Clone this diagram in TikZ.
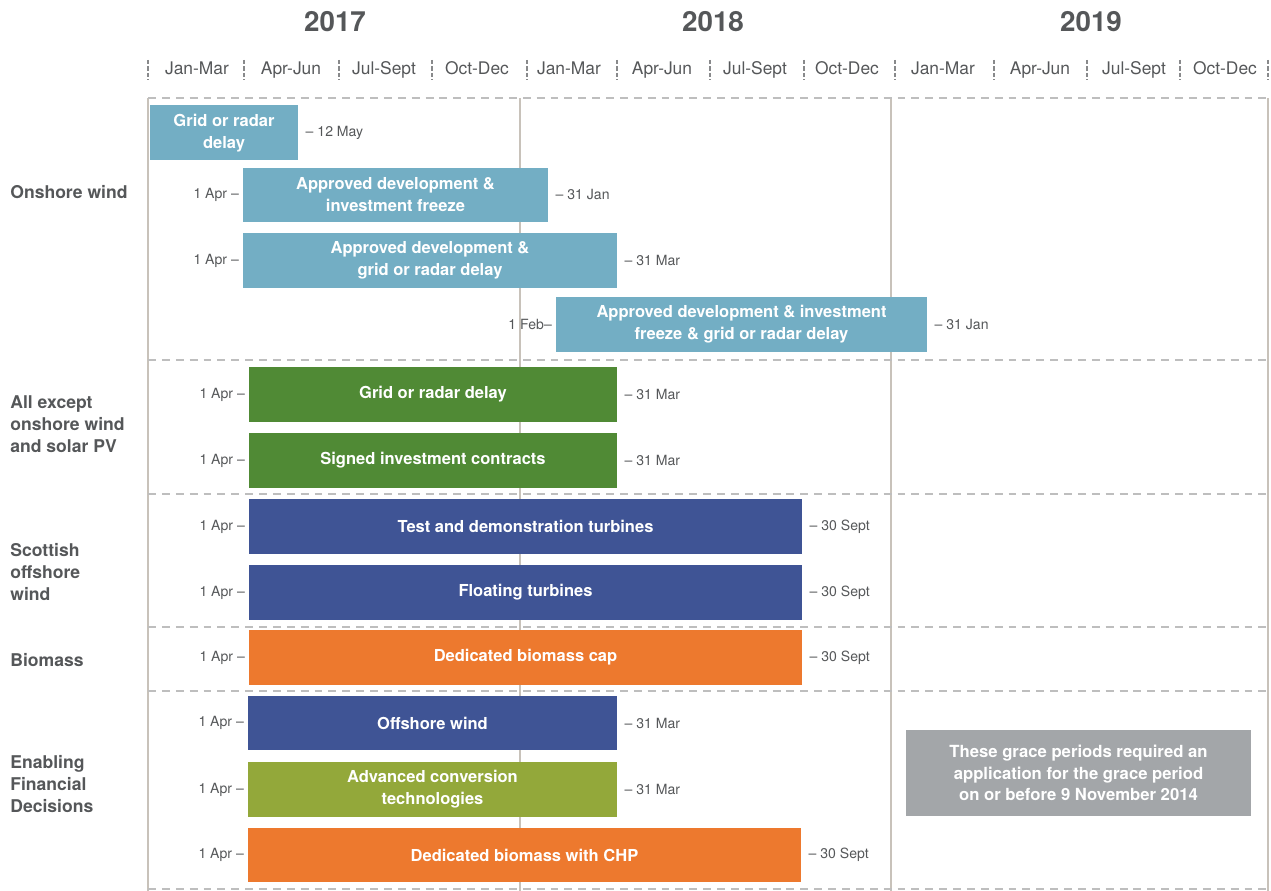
\documentclass[tikz,border=0pt]{standalone}
\usepackage{fontspec}
\setmainfont{TeX Gyre Heros}
\usepackage{tikz}
\usetikzlibrary{positioning}
\usepackage{xcolor}

\definecolor{textgrey}{RGB}{85,87,89}
\definecolor{gridline}{RGB}{200,194,186}
\definecolor{dashline}{RGB}{190,190,190}
\definecolor{windblue}{RGB}{115,174,196}
\definecolor{leafgreen}{RGB}{80,138,53}
\definecolor{navy}{RGB}{63,84,149}
\definecolor{burntorange}{RGB}{237,121,46}
\definecolor{olive}{RGB}{147,168,58}
\definecolor{notegrey}{RGB}{163,166,169}

\begin{document}
\begin{tikzpicture}[x=0.02cm, y=-0.02cm,
  bar/.style={rectangle, inner sep=0pt, minimum height=1.1cm, text=white, align=center,
              font=\bfseries\fontsize{9.4}{12.5}\selectfont},
  datel/.style={inner sep=1pt, text=textgrey, font=\fontsize{8}{9.5}\selectfont},
  catlabel/.style={anchor=west, align=left, inner sep=0pt, text=textgrey,
              font=\bfseries\fontsize{10}{12.6}\selectfont},
  yearlabel/.style={text=textgrey, font=\bfseries\fontsize{15.8}{18}\selectfont},
  quarter/.style={text=textgrey, text height=0.72em, text depth=0.21em,
              font=\fontsize{9.9}{12}\selectfont},
  sepline/.style={dashline, line width=0.8pt, dash pattern=on 4.5pt off 3.4pt},
  tick/.style={textgrey!70, line width=1pt, dash pattern=on 2.4pt off 1.3pt}]

\useasboundingbox (0,0) rectangle (1271,891);

% Years and quarters
\node[yearlabel] (y2017) at (335,22) {2017};
\node[yearlabel] (y2018) at (713,22) {2018};
\node[yearlabel] (y2019) at (1091,22) {2019};

\node[quarter] (q1)  at (197,70)  {Jan-Mar};
\node[quarter] (q2)  at (291,70)  {Apr-Jun};
\node[quarter] (q3)  at (384,70)  {Jul-Sept};
\node[quarter] (q4)  at (477,70)  {Oct-Dec};
\node[quarter] (q5)  at (569,70)  {Jan-Mar};
\node[quarter] (q6)  at (662,70)  {Apr-Jun};
\node[quarter] (q7)  at (755,70)  {Jul-Sept};
\node[quarter] (q8)  at (847,70)  {Oct-Dec};
\node[quarter] (q9)  at (943,70)  {Jan-Mar};
\node[quarter] (q10) at (1040,70) {Apr-Jun};
\node[quarter] (q11) at (1134,70) {Jul-Sept};
\node[quarter] (q12) at (1225,70) {Oct-Dec};

\draw[tick] (148,60) -- (148,80)  (244,60) -- (244,80)  (339,60) -- (339,80)
            (432,60) -- (432,80)  (527,60) -- (527,80)  (617,60) -- (617,80)
            (710,60) -- (710,80)  (804,60) -- (804,80)  (895,60) -- (895,80)
            (994,60) -- (994,80)  (1087,60) -- (1087,80) (1180,60) -- (1180,80)
            (1268,60) -- (1268,80);

% Grid lines
\draw[gridline, line width=1pt] (148,98) -- (148,891) (520,98) -- (520,891)
                                (891,98) -- (891,891) (1268,98) -- (1268,891);
\draw[sepline] (148,98) -- (1268,98);
\draw[sepline] (148,360) -- (1268,360);
\draw[sepline] (148,494) -- (1268,494);
\draw[sepline] (148,627) -- (1268,627);
\draw[sepline] (148,691) -- (1268,691);
\draw[sepline] (148,889) -- (1268,889);

% Categories
\node[catlabel] (onshore) at (10,192) {Onshore wind};
\node[catlabel] (except)  at (10,424) {All except\\onshore wind\\and solar PV};
\node[catlabel] (scottish) at (10,572) {Scottish\\offshore\\wind};
\node[catlabel] (biomass) at (10,660) {Biomass};
\node[catlabel] (enabling) at (10,784) {Enabling\\Financial\\Decisions};

% Onshore wind
\node[bar, fill=windblue, minimum width=2.96cm] (b1) at (224,133) {Grid or radar\\delay};
\node[datel, right=3pt of b1] {-- 12 May};

\node[bar, fill=windblue, minimum width=6.1cm] (b2) at (395.5,195) {Approved development \&\\investment freeze};
\node[datel, left=1pt of b2] {1 Apr --};
\node[datel, right=3pt of b2] {-- 31 Jan};

\node[bar, fill=windblue, minimum width=7.48cm] (b3) at (430,260.5) {Approved development \&\\grid or radar delay};
\node[datel, left=1pt of b3] {1 Apr --};
\node[datel, right=3pt of b3] {-- 31 Mar};

\node[bar, fill=windblue, minimum width=7.42cm] (b4) at (741.5,324.5) {Approved development \& investment\\freeze \& grid or radar delay};
\node[datel, left=1pt of b4] {1 Feb--};
\node[datel, right=3pt of b4] {-- 31 Jan};

% All except onshore wind and solar PV
\node[bar, fill=leafgreen, minimum width=7.36cm] (b5) at (433,394.5) {Grid or radar delay};
\node[datel, left=1pt of b5] {1 Apr --};
\node[datel, right=3pt of b5] {-- 31 Mar};

\node[bar, fill=leafgreen, minimum width=7.36cm] (b6) at (433,460.5) {Signed investment contracts};
\node[datel, left=1pt of b6] {1 Apr --};
\node[datel, right=3pt of b6] {-- 31 Mar};

% Scottish offshore wind
\node[bar, fill=navy, minimum width=11.06cm] (b7) at (525.5,526.5) {Test and demonstration turbines};
\node[datel, left=1pt of b7] {1 Apr --};
\node[datel, right=3pt of b7] {-- 30 Sept};

\node[bar, fill=navy, minimum width=11.06cm] (b8) at (525.5,592.5) {Floating turbines};
\node[datel, left=1pt of b8] {1 Apr --};
\node[datel, right=3pt of b8] {-- 30 Sept};

% Biomass
\node[bar, fill=burntorange, minimum width=11.06cm] (b9) at (525.5,657.5) {Dedicated biomass cap};
\node[datel, left=1pt of b9] {1 Apr --};
\node[datel, right=3pt of b9] {-- 30 Sept};

% Enabling Financial Decisions
\node[bar, fill=navy, minimum width=7.38cm] (b10) at (432.5,723) {Offshore wind};
\node[datel, left=1pt of b10] {1 Apr --};
\node[datel, right=3pt of b10] {-- 31 Mar};

\node[bar, fill=olive, minimum width=7.38cm] (b11) at (432.5,789.5) {Advanced conversion\\technologies};
\node[datel, left=1pt of b11] {1 Apr --};
\node[datel, right=3pt of b11] {-- 31 Mar};

\node[bar, fill=burntorange, minimum width=11.06cm] (b12) at (524.5,855) {Dedicated biomass with CHP};
\node[datel, left=1pt of b12] {1 Apr --};
\node[datel, right=3pt of b12] {-- 30 Sept};

% Note
\node[bar, fill=notegrey, minimum width=6.9cm, minimum height=1.72cm,
      font=\bfseries\fontsize{9.5}{12.2}\selectfont] (note) at (1078.5,773)
      {These grace periods required an\\application for the grace period\\on or before 9 November 2014};

\end{tikzpicture}
\end{document}
